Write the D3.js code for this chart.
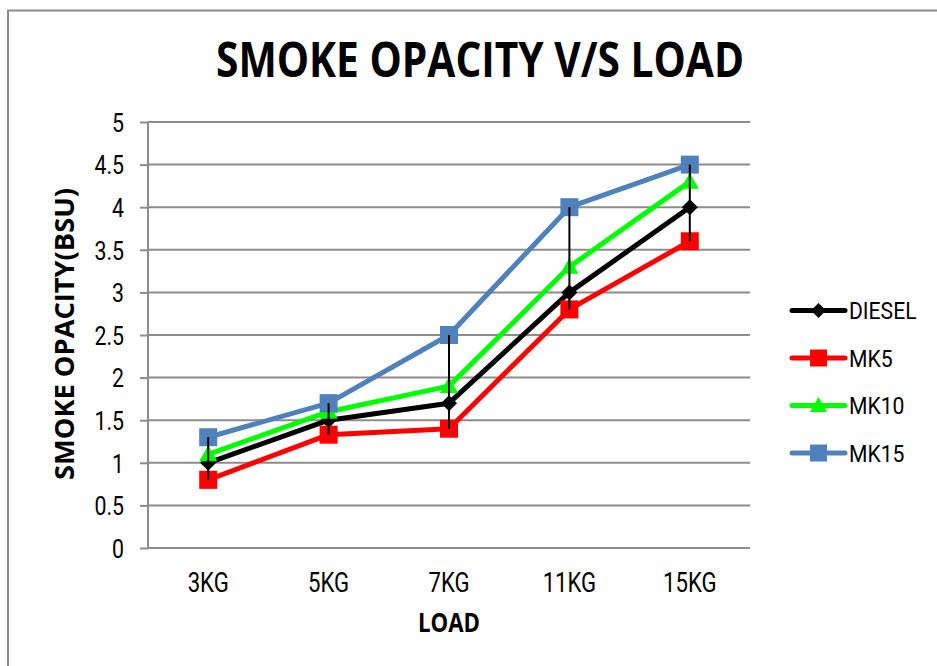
<!DOCTYPE html>
<html><head><meta charset="utf-8">
<script src="https://cdn.jsdelivr.net/npm/d3@7"></script>
<style>body{margin:0;background:#fff}svg{display:block}</style>
</head><body>
<script>
const categories = ["3KG","5KG","7KG","11KG","15KG"];
const diesel = [1.0, 1.5, 1.7, 3.0, 4.0];
const mk5    = [0.8, 1.33, 1.4, 2.8, 3.6];
const mk10   = [1.1, 1.6, 1.9, 3.3, 4.3];
const mk15   = [1.3, 1.7, 2.5, 4.0, 4.5];
const yTicks = [0,0.5,1,1.5,2,2.5,3,3.5,4,4.5,5];
const seriesNames = ["DIESEL","MK5","MK10","MK15"];

const series = [
  {name:"DIESEL", values:diesel, color:"#000000", marker:"diamond"},
  {name:"MK5", values:mk5, color:"#FF0000", marker:"square"},
  {name:"MK10", values:mk10, color:"#00FF00", marker:"triangle"},
  {name:"MK15", values:mk15, color:"#4F81BD", marker:"square"}
];

const W=937,H=666;
const svg=d3.select("body").append("svg").attr("width",W).attr("height",H);
svg.append("rect").attr("width",W).attr("height",H).attr("fill","#fff");
// outer frame
svg.append("rect").attr("x",8).attr("y",10.5).attr("width",1000).attr("height",1000)
  .attr("fill","none").attr("stroke","#8c8c8c").attr("stroke-width",2);

const x=d3.scaleBand().domain(categories).range([148,750]);
const y=d3.scaleLinear().domain([0,5]).range([548,122]);
const tickFont='Roboto,"Liberation Sans",sans-serif';

function squeeze(sel,f){
  sel.each(function(){const l=this.getComputedTextLength();
    d3.select(this).attr("textLength",l*f).attr("lengthAdjust","spacingAndGlyphs");});
}

// gridlines
svg.append("g").selectAll("line").data(yTicks.filter(d=>d>0)).join("line")
  .attr("x1",148).attr("x2",750).attr("y1",d=>y(d)).attr("y2",d=>y(d))
  .attr("stroke","#8c8c8c").attr("stroke-width",2);

// y axis
const yAxis=d3.axisLeft(y).tickValues(yTicks).tickSize(8).tickPadding(16).tickFormat(d3.format("~g"));
const ya=svg.append("g").attr("transform","translate(148,0)").call(yAxis);
ya.select(".domain").attr("stroke","#8c8c8c").attr("stroke-width",2).attr("d","M0,122V548");
ya.selectAll(".tick line").attr("stroke","#8c8c8c").attr("stroke-width",2);
ya.selectAll(".tick text").attr("font-family",tickFont).attr("font-size",26).attr("fill","#000")
  .attr("dy","0.36em");
squeeze(ya.selectAll(".tick text"),0.82);

// x axis
const xAxis=d3.axisBottom(x).tickSize(0).tickPadding(25);
const xa=svg.append("g").attr("transform","translate(0,548)").call(xAxis);
xa.select(".domain").attr("stroke","#8c8c8c").attr("stroke-width",2).attr("d","M148,0H750");
xa.selectAll(".tick text").attr("font-family",tickFont).attr("font-size",27).attr("fill","#000");
squeeze(xa.selectAll(".tick text"),0.82);

const cx=c=>x(c)+x.bandwidth()/2;
const line=d3.line().x((d,i)=>cx(categories[i])).y(d=>y(d));

function marker(g,type,color,px,py,s){
  if(type==="square"){
    g.append("rect").attr("x",px-s/2).attr("y",py-s/2).attr("width",s).attr("height",s).attr("fill",color);
  } else if(type==="diamond"){
    const r=s/2;
    g.append("path").attr("d",`M${px},${py-r}L${px+r},${py}L${px},${py+r}L${px-r},${py}Z`).attr("fill",color);
  } else {
    const r=s/2;
    g.append("path").attr("d",`M${px},${py-r-1}L${px+r+1},${py+r-1}L${px-r-1},${py+r-1}Z`).attr("fill",color);
  }
}
const sizes={square:18,diamond:16,triangle:16};

series.forEach(s=>{
  svg.append("path").datum(s.values).attr("d",line).attr("fill","none")
    .attr("stroke",s.color).attr("stroke-width",5).attr("stroke-linejoin","round");
});
series.forEach(s=>{
  const g=svg.append("g");
  s.values.forEach((v,i)=>marker(g,s.marker,s.color,cx(categories[i]),y(v),sizes[s.marker]));
});
// high-low lines
svg.append("g").selectAll("line").data(categories).join("line")
  .attr("x1",d=>cx(d)).attr("x2",d=>cx(d))
  .attr("y1",(d,i)=>y(d3.max(series,s=>s.values[i])))
  .attr("y2",(d,i)=>y(d3.min(series,s=>s.values[i])))
  .attr("stroke","#000").attr("stroke-width",2);

// title
svg.append("text").attr("x",480).attr("y",77).attr("text-anchor","middle")
  .attr("font-family","'Open Sans','DejaVu Sans',sans-serif").attr("font-weight","bold")
  .attr("font-size",49).attr("textLength",528).attr("lengthAdjust","spacingAndGlyphs")
  .text("SMOKE OPACITY V/S LOAD");
// axis titles
svg.append("text").attr("transform","translate(74,334) rotate(-90)").attr("text-anchor","middle")
  .attr("font-family","'Open Sans','DejaVu Sans',sans-serif").attr("font-weight","bold")
  .attr("font-size",27).attr("textLength",292).attr("lengthAdjust","spacingAndGlyphs")
  .text("SMOKE OPACITY(BSU)");
svg.append("text").attr("x",449).attr("y",632).attr("text-anchor","middle")
  .attr("font-family","'Open Sans','DejaVu Sans',sans-serif").attr("font-weight","bold")
  .attr("font-size",27).attr("textLength",62).attr("lengthAdjust","spacingAndGlyphs")
  .text("LOAD");

// legend
const leg=svg.append("g");
series.forEach((s,i)=>{
  const ly=310.5+i*47.5;
  leg.append("line").attr("x1",792).attr("x2",845).attr("y1",ly).attr("y2",ly)
    .attr("stroke",s.color).attr("stroke-width",5).attr("stroke-linecap","round");
  marker(leg,s.marker,s.color,818.5,ly,sizes[s.marker]-1);
  const t=leg.append("text").attr("x",849).attr("y",ly+8.5).attr("font-family",tickFont)
    .attr("font-size",24).attr("fill","#000").text(seriesNames[i]);
  squeeze(t,0.88);
});
</script>
</body></html>
